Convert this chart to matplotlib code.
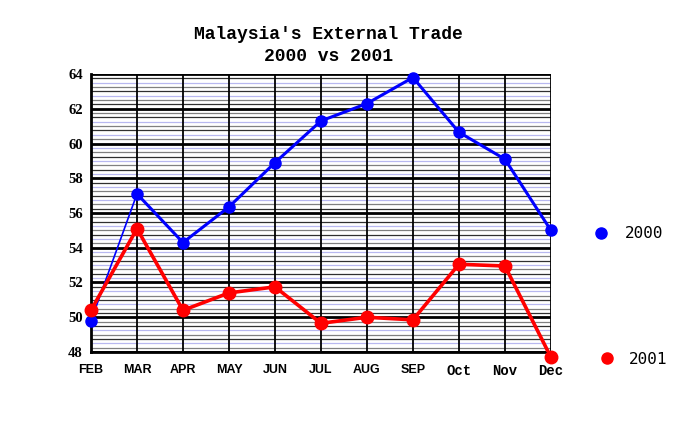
import matplotlib
matplotlib.use("Agg")
import matplotlib.pyplot as plt
import numpy as np

months = ["FEB", "MAR", "APR", "MAY", "JUN", "JUL", "AUG", "SEP", "Oct", "Nov", "Dec"]
trade_2000 = [49.8, 57.1, 54.3, 56.35, 58.9, 61.3, 62.3, 63.8, 60.65, 59.1, 55.0]
trade_2001 = [50.4, 55.1, 50.4, 51.4, 51.75, 49.65, 50.0, 49.85, 53.05, 52.95, 47.7]
y_ticks = [48, 50, 52, 54, 56, 58, 60, 62, 64]

fig = plt.figure(figsize=(7, 4.25), dpi=100)
ax = fig.add_axes([0.13, 0.1718, 0.657, 0.654])
x = np.arange(len(months))

# busy background grid: minor lines in a gray / lavender / black cycle
minor_cols = ["#808080", "#b8b8f0", "#303030"]
for i, yv in enumerate(np.arange(48.25, 64, 0.25)):
    if abs(yv - round(yv / 2) * 2) < 1e-6:
        continue
    ax.axhline(yv, color=minor_cols[i % 3], lw=0.9, zorder=1)
for yv in y_ticks:
    ax.axhline(yv, color="black", lw=2, zorder=1.5)
for xv in x:
    ax.axvline(xv, color="black", lw=1.3, zorder=1.5)

# 2000: first segment is drawn thin
ax.plot(x[:2], trade_2000[:2], color="#0000ff", lw=1.2, zorder=3)
ax.plot(x[1:], trade_2000[1:], color="#0000ff", lw=2.2, zorder=3)
ax.plot(x, trade_2000, "o", color="#0000ff", ms=8, zorder=3, clip_on=False)
ax.plot(x, trade_2001, color="#ff0000", lw=2.6, zorder=4)
ax.plot(x, trade_2001, "o", color="#ff0000", ms=9, zorder=4, clip_on=False)

ax.set_xlim(0, len(months) - 1)
ax.set_ylim(48, 64)
ax.set_yticks(y_ticks)
ax.set_yticklabels([str(v) for v in y_ticks], fontfamily="Liberation Serif",
                   fontweight="bold", fontsize=10.5)
ax.set_xticks(x)
ax.set_xticklabels(months)
for lab in ax.get_xticklabels():
    if lab.get_text().isupper():
        lab.set_fontfamily("Liberation Sans")
        lab.set_fontsize(9)
    else:
        lab.set_fontfamily("Liberation Mono")
        lab.set_fontsize(10)
    lab.set_fontweight("bold")
ax.tick_params(length=0, pad=9)
ax.tick_params(axis="y", pad=6)
for side in ["top", "right"]:
    ax.spines[side].set_visible(False)
ax.spines["left"].set_linewidth(2)
ax.spines["bottom"].set_linewidth(2)

fig.text(0.469, 1 - 45.5 / 425, "Malaysia's External Trade\n2000 vs 2001", ha="center",
         va="center", fontfamily="Liberation Mono", fontweight="bold", fontsize=13,
         linespacing=1.38)

# legend placed by hand on the right
fig.lines.append(plt.Line2D([0.858], [1 - 233 / 425], marker="o", color="#0000ff",
                            ms=8, transform=fig.transFigure, figure=fig))
fig.lines.append(plt.Line2D([0.867], [1 - 358 / 425], marker="o", color="#ff0000",
                            ms=8, transform=fig.transFigure, figure=fig))
fig.text(0.892, 1 - 234 / 425, "2000", va="center", fontfamily="DejaVu Sans Mono", fontsize=11.5)
fig.text(0.898, 1 - 360 / 425, "2001", va="center", fontfamily="DejaVu Sans Mono", fontsize=11.5)

fig.savefig("out.png", dpi=100)
